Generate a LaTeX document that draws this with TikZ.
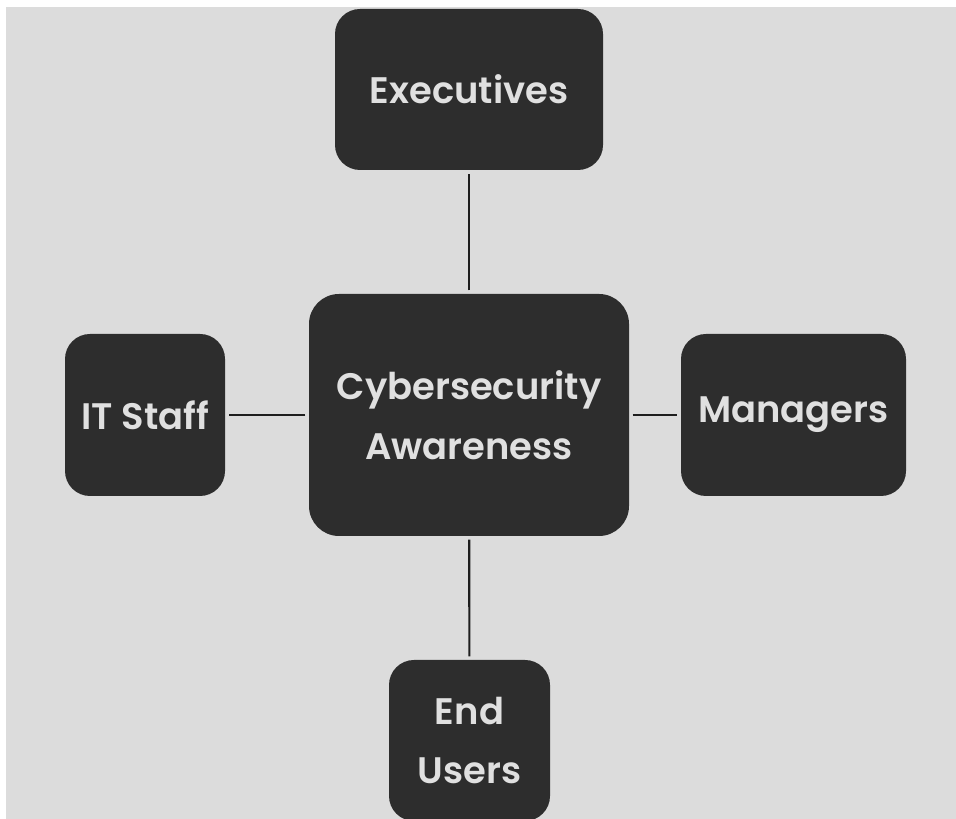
\documentclass[tikz,border=0pt]{standalone}
\usepackage{fontspec}
\setmainfont{Poppins}[BoldFont={Poppins SemiBold}]
\usepackage{tikz}
\definecolor{boxgray}{HTML}{2D2D2D}
\definecolor{textgray}{HTML}{E0E0E0}
\definecolor{backgray}{HTML}{DCDCDC}
\definecolor{linegray}{HTML}{1E1E1E}
\tikzset{
every picture/.style={line width=1.2pt},
group/.style={fill=boxgray, text=textgray, rounded corners=0.5cm, align=center,
  font=\fontsize{21}{34}\selectfont\bfseries, inner sep=0pt},
link/.style={draw=linegray, shorten <=1.5pt, shorten >=1.5pt}
}

\begin{document}
\begin{tikzpicture}
    \useasboundingbox (0,0) rectangle (19.12,16.38);
    \clip (0,0) rectangle (19.12,16.38);
    \fill[white] (0,0) rectangle (19.12,16.38);
    \fill[backgray] (0.12,-0.1) rectangle (19.3,16.24);
    \node[group, minimum width=6.4cm, minimum height=4.84cm, rounded corners=0.6cm] (aware) at (9.38,8.08) {Cybersecurity\\Awareness};
    \node[group, minimum width=5.36cm, minimum height=3.22cm] (exec) at (9.38,14.59) {Executives};
    \node[group, minimum width=3.2cm, minimum height=3.24cm] (it) at (2.9,8.08) {IT Staff};
    \node[group, minimum width=4.5cm, minimum height=3.24cm] (mgr) at (15.87,8.08) {Managers};
    \node[group, minimum width=3.22cm, minimum height=3.22cm] (users) at (9.39,1.57) {End\\Users};
    \foreach \n in {exec, it, mgr, users} {
      \draw[link] (aware) -- (\n);
    }
  \end{tikzpicture}
\end{document}
